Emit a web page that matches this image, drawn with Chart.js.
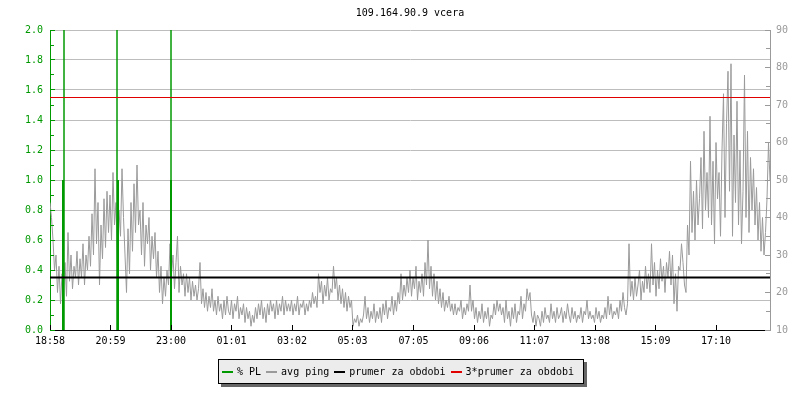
<!DOCTYPE html>
<html><head><meta charset="utf-8">
<script src="https://cdn.jsdelivr.net/npm/chart.js@4"></script>
<style>
html,body{margin:0;padding:0;background:#fff;}
#wrap{position:relative;width:800px;height:400px;}
#legend{position:absolute;left:218px;top:359px;height:23px;border:1px solid #000;background:#ececec;box-shadow:3px 3px 0 #666;display:flex;align-items:center;padding:0 9px 0 3px;font:10px "DejaVu Sans Mono",monospace;color:#000;white-space:pre;}
.item{display:flex;align-items:center;margin-right:5px;}
.item:last-child{margin-right:0;}
.sw{width:11px;height:2px;margin-right:4px;}
</style></head>
<body><div id="wrap"><canvas id="c" width="800" height="400"></canvas><div id="legend"></div></div>
<script>
const chartTitle = '109.164.90.9 vcera';
// x axis: minutes since 18:58 (24 h window)
const tickMinutes = [0, 121, 242, 363, 484, 605, 727, 848, 969, 1090, 1211, 1332];
const tickLabels = ['18:58','20:59','23:00','01:01','03:02','05:03','07:05','09:06','11:07','13:08','15:09','17:10'];
const sampleStep = 3; // minutes between ping samples
// avg ping [ms], right axis — one row = 2 hours
const pingMs = [
 44,40,34,26,30,20,27,17,25,22, 28,19,36,23,30,21,27,24,31,22, 29,24,33,22,30,26,35,27,41,30, 53,33,44,22,38,29,45,32,47,36,
 46,34,52,38,44,28,42,35,53,40, 30,20,37,25,44,31,49,36,54,38, 42,30,44,27,38,33,40,26,35,29, 36,24,31,20,27,17,24,19,26,22,
 33,25,30,21,28,35,20,27,22,25, 19,25,20,24,18,23,19,22,18,21, 28,17,21,16,20,15,19,16,21,15, 18,14,19,15,17,13,18,14,19,15,
 14,18,13,17,15,19,13,16,14,17, 12,16,13,15,11,14,12,16,13,17, 14,18,13,16,12,17,14,18,15,17, 13,18,14,17,15,19,14,18,15,17,
 15,18,14,17,15,19,14,17,16,18, 14,17,15,18,16,20,17,19,16,25, 20,23,17,22,19,24,18,21,20,27, 21,24,18,22,17,21,16,20,15,19,
 16,18,11,13,12,14,11,13,12,14, 19,13,16,12,15,13,17,12,15,13, 16,12,17,14,18,13,16,15,19,14, 18,15,20,17,25,18,22,19,24,20,
 26,19,24,21,27,18,23,20,25,19, 28,22,34,21,27,19,25,18,23,17, 21,16,20,15,18,16,19,15,17,14, 17,14,16,15,18,13,16,14,17,15,
 22,15,18,13,16,12,15,13,17,12, 15,13,16,11,14,13,17,14,18,15, 17,14,16,12,18,13,15,11,16,13, 17,12,15,14,19,13,17,15,21,18,
 20,14,12,15,11,14,13,11,15,12, 16,13,14,12,17,13,15,12,16,13, 14,16,12,15,13,17,14,12,16,13, 15,12,14,13,16,12,15,14,18,13,
 15,13,14,12,16,13,15,12,14,13, 16,13,19,14,17,13,15,14,16,13, 18,15,20,16,14,17,33,19,23,18, 24,19,22,26,18,23,20,27,21,25,
 20,33,22,28,19,26,21,29,23,27, 20,28,24,31,22,30,17,25,15,27, 26,33,28,22,20,38,30,55,36,47, 34,50,38,45,56,37,63,42,52,40,
 67,38,55,33,60,45,52,35,58,73, 40,65,79,47,81,35,62,44,71,38, 58,33,47,78,40,63,36,56,42,53, 38,48,34,44,31,40,30,36,45,60,
 50
];
// packet loss [%], left axis
const lossMinutes = [26, 28, 134, 136, 242, 242];
const lossValues  = [1.0, 100, 100, 1.0, 1.0, 100];
const meanPing = 24; // prumer za obdobi [ms]

const GREEN = '#009a00', GRAY = '#9a9a9a', FONT = 'DejaVu Sans Mono';
const labels = ['% PL', 'avg ping', 'prumer za obdobi', '3*prumer za obdobi'];
const colors = [GREEN, GRAY, '#000000', '#e00000'];

const pingData = pingMs.map((v, i) => ({x: i * sampleStep, y: v}));
const lossData = [];
lossMinutes.forEach((t, i) => {
  lossData.push({x: t, y: 0}, {x: t, y: lossValues[i]}, {x: t, y: 0}, {x: t, y: null});
});
const endMin = 1440;

const titlePlugin = {
  id: 'plotTitle',
  afterDraw(chart) {
    const {ctx, chartArea: a} = chart;
    ctx.save();
    ctx.font = '10px "' + FONT + '"';
    ctx.fillStyle = '#000';
    ctx.textAlign = 'center';
    ctx.textBaseline = 'middle';
    ctx.fillText(chartTitle, (a.left + a.right) / 2, 13);
    ctx.restore();
  }
};
const al = p => Math.round(p - 0.5) + 0.5;
const innerTicks = {
  id: 'innerTicks',
  afterDatasetsDraw(chart) {
    const {ctx, chartArea: a, scales} = chart;
    ctx.save();
    ctx.lineWidth = 1;
    function vert(scale, x0, dir, color) {
      const vals = scale.ticks.map(t => t.value);
      ctx.strokeStyle = color;
      ctx.beginPath();
      vals.forEach((v, i) => {
        const p = al(scale.getPixelForValue(v));
        ctx.moveTo(x0, p); ctx.lineTo(x0 + dir * 5, p);
        if (i < vals.length - 1) {
          const m = al(scale.getPixelForValue((v + vals[i + 1]) / 2));
          ctx.moveTo(x0, m); ctx.lineTo(x0 + dir * 4, m);
        }
      });
      ctx.stroke();
    }
    vert(scales.y, a.left, 1, GREEN);
    vert(scales.y1, a.right, -1, GRAY);
    ctx.strokeStyle = '#000';
    ctx.beginPath();
    scales.x.ticks.forEach(t => {
      const p = al(scales.x.getPixelForValue(t.value));
      ctx.moveTo(p, a.bottom); ctx.lineTo(p, a.bottom - 5);
    });
    ctx.stroke();
    ctx.restore();
  }
};

new Chart(document.getElementById('c'), {
  type: 'line',
  data: {
    datasets: [
      {label: labels[0], data: lossData, yAxisID: 'y', borderColor: colors[0], borderWidth: 1, order: 3,
       segment: {borderWidth: c => (c.p0.parsed.y <= 1 && c.p1.parsed.y <= 1) ? 2 : 1}},
      {label: labels[1], data: pingData, yAxisID: 'y1', borderColor: colors[1], borderWidth: 1, order: 4},
      {label: labels[2], data: [{x: 0, y: meanPing}, {x: endMin, y: meanPing}], yAxisID: 'y1', borderColor: colors[2], borderWidth: 2, order: 2},
      {label: labels[3], data: [{x: 0, y: 3 * meanPing}, {x: endMin, y: 3 * meanPing}], yAxisID: 'y1', borderColor: colors[3], borderWidth: 1, order: 1}
    ]
  },
  options: {
    responsive: false,
    animation: false,
    events: [],
    layout: {padding: {top: 30, left: 0, right: 0, bottom: 0}},
    elements: {point: {radius: 0}, line: {tension: 0, borderCapStyle: 'butt'}},
    plugins: {legend: {display: false}, tooltip: {enabled: false}, title: {display: false}},
    scales: {
      x: {
        type: 'linear', min: 0, max: endMin,
        afterBuildTicks: s => { s.ticks = tickMinutes.map(v => ({value: v})); },
        afterFit: s => { s.height = 70; },
        grid: {display: false, drawTicks: false},
        border: {display: true, color: '#000', width: 1},
        ticks: {autoSkip: false, maxRotation: 0, padding: 5, color: '#000', font: {family: FONT, size: 10},
                callback: (v, i) => tickLabels[i]}
      },
      y: {
        position: 'left', min: 0, max: 2,
        afterFit: s => { s.width = 50; },
        grid: {color: '#bdbdbd', drawTicks: false, lineWidth: 1},
        border: {display: true, color: GREEN, width: 1},
        ticks: {stepSize: 0.2, padding: 7, color: GREEN, font: {family: FONT, size: 10},
                callback: v => v.toFixed(1)}
      },
      y1: {
        position: 'right', min: 10, max: 90,
        afterFit: s => { s.width = 30; },
        grid: {drawOnChartArea: false, drawTicks: false},
        border: {display: true, color: GRAY, width: 1},
        ticks: {stepSize: 10, padding: 6, color: GRAY, font: {family: FONT, size: 10}}
      }
    }
  },
  plugins: [titlePlugin, innerTicks]
});

const lg = document.getElementById('legend');
labels.forEach((t, i) => {
  const it = document.createElement('div'); it.className = 'item';
  const sw = document.createElement('span'); sw.className = 'sw'; sw.style.background = colors[i];
  const tx = document.createElement('span'); tx.textContent = t;
  it.appendChild(sw); it.appendChild(tx); lg.appendChild(it);
});
</script>
</body></html>
